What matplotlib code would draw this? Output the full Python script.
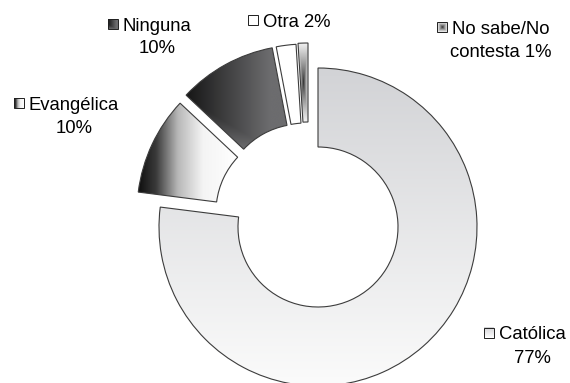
import numpy as np
import matplotlib.pyplot as plt
from matplotlib.patches import Rectangle
from matplotlib.colors import to_rgb

categories = ["Católica", "Evangélica", "Ninguna", "Otra", "No sabe/No\ncontesta"]
shares = [77, 10, 10, 2, 1]
label_joins = ["\n", "\n", "\n", " ", " "]
fills = ["catolica", "evangelica", "ninguna", "otra", "nosabe"]

# pulled-out slices, pixel shift (right, up)
slice_shift = [(0, 0), (-22, 15), (-16, 23), (-12, 24), (-10, 25)]
# label anchors in pixels from top-left: text centre x, baselines of each line
label_pos = [(532, [339, 363]), (74, [110, 133]), (157, [31, 53]),
             (297, [27]), (501, [34, 57])]

W, H = 570, 383
CX, CY, R = 318, 227, 159   # ring centre and outer radius in pixels
HOLE = 80 / 159
FS = 13.3
EDGE = "#3c3c3c"


def px(x, y):
    return (x - CX) / R, (CY - y) / R


def ramp(t, stops):
    pos = [s[0] for s in stops]
    cols = np.array([to_rgb(s[1]) for s in stops])
    out = np.empty(t.shape + (3,))
    for k in range(3):
        out[..., k] = np.interp(t, pos, cols[:, k])
    return out


def shade(kind, u, v):
    # u runs left->right, v top->bottom, both 0..1
    if kind == "catolica":
        return ramp(v, [(0, "#d2d3d6"), (1, "#fbfbfb")])
    if kind == "evangelica":
        return ramp(u, [(0, "#0e0e0e"), (0.18, "#3a3a3a"), (0.4, "#b8b8b8"),
                        (0.65, "#f4f4f4"), (1, "#ffffff")])
    if kind == "ninguna":
        t = np.clip(np.maximum(1.2 * u, 2 * (v - 0.5)), 0, 1)
        return ramp(t, [(0, "#161616"), (1, "#6c6c6e")])
    if kind == "nosabe":
        t = np.maximum(np.abs(u - 0.55) * 2, np.abs(v - 0.5) * 2) ** 0.7
        return ramp(t, [(0, "#1c1c1c"), (1, "#f4f4f4")])
    return ramp(u, [(0, "#ffffff"), (1, "#ffffff")])


def paint(ax, kind, x0, x1, y0, y1, clip=None, zorder=0):
    n = 200
    u, v = np.meshgrid(np.linspace(0, 1, n), np.linspace(0, 1, n))
    im = ax.imshow(shade(kind, u, v), extent=(x0, x1, y0, y1), origin="upper",
                   interpolation="bilinear", zorder=zorder, aspect="auto")
    if clip is not None:
        im.set_clip_path(clip)
    return im


fig = plt.figure(figsize=(W / 100, H / 100), dpi=100)
ax = fig.add_axes([0, 0, 1, 1])

wedges, _ = ax.pie(shares, startangle=90, counterclock=False, radius=1,
                   wedgeprops=dict(width=1 - HOLE, facecolor="none",
                                   edgecolor=EDGE, linewidth=0.8))

for w, (dx, dy), kind in zip(wedges, slice_shift, fills):
    w.set_center((dx / R, dy / R))
    w.set_zorder(2)
    bb = w.get_path().get_extents()
    paint(ax, kind, bb.x0, bb.x1, bb.y0, bb.y1, clip=w, zorder=1)

ax.set_xlim(-CX / R, (W - CX) / R)
ax.set_ylim((CY - H) / R, CY / R)
ax.set_aspect("auto")
ax.axis("off")

# labels with a small key square before the first line
first_lines = []
for name, join, val, (cx, bases) in zip(categories, label_joins, shares, label_pos):
    lines = f"{name}{join}{val}%".split("\n")
    texts = []
    for line, base in zip(lines, bases):
        texts.append(ax.text(*px(cx, base), line, ha="center", va="baseline",
                             fontsize=FS, family=["Liberation Sans", "DejaVu Sans"],
                             color="#000000"))
    first_lines.append((texts[0], bases[0]))

fig.canvas.draw()
for (t, base), kind in zip(first_lines, fills):
    left = t.get_window_extent().x0
    size, gap = 10, 5
    x0, y0 = px(left - gap - size, base - 1.5)
    x1, y1 = px(left - gap, base - 1.5 - size)
    x0, x1 = min(x0, x1), max(x0, x1)
    y0, y1 = min(y0, y1), max(y0, y1)
    paint(ax, kind, x0, x1, y0, y1, zorder=3)
    ax.add_patch(Rectangle((x0, y0), x1 - x0, y1 - y0, facecolor="none",
                           edgecolor="#202020", linewidth=0.7, zorder=4))

ax.set_xlim(-CX / R, (W - CX) / R)
ax.set_ylim((CY - H) / R, CY / R)
fig.savefig("out.png", dpi=100)
